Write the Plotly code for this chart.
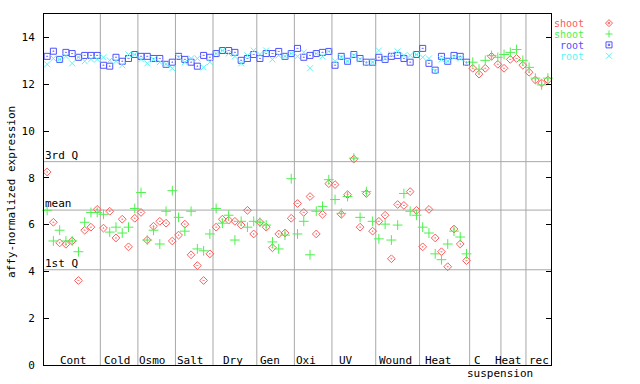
import plotly.graph_objects as go

# ---------------- data ----------------
groups = ["Cont", "Cold", "Osmo", "Salt", "Dry", "Gen", "Oxi", "UV", "Wound",
          "Heat", "C", "Heat", "rec"]
group_sizes = [9, 6, 6, 6, 7, 6, 6, 7, 7, 8, 5, 4, 4]

shoot_1 = [8.25, 6.10, 5.22, 5.16, 5.30, 3.61, 5.76, 5.89, 6.65,
           5.85, 6.57, 5.43, 6.23, 5.05, 6.27,
           6.52, 5.34, 5.93, 6.14, 6.06, 5.30,
           5.55, 6.02, 4.71, 4.25, 3.61, 4.75,
           5.89, 6.23, 6.19, 6.14, 5.98, 6.61, 5.60,
           6.10, 5.89, 5.01, 5.60, 5.64, 6.27,
           6.90, 6.52, 7.20, 5.60, 6.44, 7.75,
           7.71, 6.44, 7.28, 8.80, 5.89, 7.33, 5.72,
           6.14, 6.40, 4.54, 6.86, 6.82, 7.41, 6.61,
           5.05, 6.65, 5.43, 4.84, 4.20, 5.81, 5.17, 4.46,
           12.68, 12.43, 12.68, 13.19, 12.85,
           12.68, 13.06, 13.10, 12.81,
           12.51, 12.18, 12.05, 12.18]

shoot_2 = [6.61, 5.30, 5.76, 5.30, 5.30, 4.84, 6.10, 6.52, 6.52,
           6.44, 5.68, 5.89, 5.64, 5.89, 6.69,
           7.37, 5.34, 5.76, 5.17, 6.57, 7.45,
           6.31, 5.72, 6.57, 4.96, 4.88, 5.60,
           6.69, 6.06, 6.40, 5.34, 6.14, 5.89, 6.14,
           6.10, 5.98, 5.26, 4.96, 5.55, 7.96,
           5.60, 6.14, 4.71, 6.57, 6.78, 7.92,
           7.07, 6.48, 7.20, 8.84, 6.31, 7.41, 6.14,
           5.39, 6.02, 5.34, 5.98, 7.33, 6.57, 6.40,
           5.89, 5.64, 4.75, 4.50, 5.17, 5.72, 5.47, 4.75,
           12.94, 12.64, 13.02, 13.23, 13.15,
           13.27, 13.36, 13.48, 13.02,
           12.72, 12.26, 11.97, 12.26]

root_1 = [13.19, 13.41, 13.06, 13.36, 13.31, 13.15, 13.23, 13.23, 13.23,
          12.81, 12.77, 13.15, 12.98, 13.10, 13.27,
          13.19, 13.19, 13.10, 13.10, 12.85, 12.94,
          13.19, 13.06, 12.94, 12.77, 13.23, 13.15,
          13.31, 13.44, 13.44, 13.36, 13.02, 13.10, 13.27,
          13.10, 13.31, 13.31, 13.40, 13.19, 13.31,
          13.53, 13.15, 13.23, 13.31, 13.36, 13.40,
          12.81, 13.19, 12.98, 13.27, 13.10, 12.94, 12.94,
          13.15, 13.06, 13.19, 13.23, 13.10, 12.94, 13.27,
          13.53, 12.89, 12.60, 13.19, 12.98, 13.23, 13.19, 12.94] + [None] * 13

root_2 = [12.85, 13.10, 13.06, 13.19, 12.89, 13.15, 12.98, 13.06, 13.06,
          13.15, 13.02, 12.98, 12.81, 13.27, 13.27,
          13.06, 12.89, 13.06, 12.94, 12.85, 12.68,
          13.15, 12.94, 13.10, 13.10, 12.72, 12.94,
          13.31, 13.44, 13.31, 13.19, 12.89, 13.23, 13.44,
          13.27, 13.44, 13.06, 13.23, 13.19, 13.31,
          13.19, 13.36, 12.68, 13.31, 13.19, 13.40,
          12.98, 13.15, 12.98, 13.23, 13.06, 12.89, 12.94,
          13.44, 13.10, 13.27, 13.40, 13.23, 13.23, 13.27,
          13.15, 13.10, 12.56, 13.06, 12.98, 13.15, 13.10, 12.89] + [None] * 13

stat_names = ["3rd Q", "mean", "1st Q"]
stat_values = [8.69, 6.62, 4.07]

y_ticks = [0, 2, 4, 6, 8, 10, 12, 14]

# ---------------- styles ----------------
FONT = "DejaVu Sans Mono"
RED, GREEN, BLUE, CYAN = "#ff5a5a", "#4ef04e", "#5050ff", "#5cf4f4"
series = [
    ("shoot", shoot_1, RED, "diamond-open-dot", 6),
    ("shoot", shoot_2, GREEN, "cross-thin-open", 7),
    ("root", root_1, BLUE, "square-open-dot", 6),
    ("root", root_2, CYAN, "x-thin-open", 6),
]
# legend glyph outlines (pixel offsets around an anchor)
legend_glyphs = [
    "M0,3.5 L3.5,0 L0,-3.5 L-3.5,0 Z M-0.7,-0.7 L0.7,-0.7 L0.7,0.7 L-0.7,0.7 Z",
    "M-3.5,0 L3.5,0 M0,-3.5 L0,3.5",
    "M-3,-3 L3,-3 L3,3 L-3,3 Z M-0.7,-0.7 L0.7,-0.7 L0.7,0.7 L-0.7,0.7 Z",
    "M-3,-3 L3,3 M-3,3 L3,-3",
]

n = sum(group_sizes)
xs = list(range(1, n + 1))

fig = go.Figure()
for name, vals, col, sym, sz in series:
    fig.add_trace(go.Scatter(
        x=xs, y=vals, mode="markers", name=name, showlegend=False,
        marker=dict(symbol=sym, size=sz, color=col, line=dict(color=col, width=1)),
        cliponaxis=False,
    ))

# group separators and labels
shapes = []
annotations = []
cum = 0
bounds = []
for g, s in zip(groups, group_sizes):
    start = cum
    cum += s
    bounds.append((start, cum))
for i, (a, b) in enumerate(bounds[:-1]):
    shapes.append(dict(type="line", xref="x", yref="paper", x0=b + 0.5, x1=b + 0.5,
                       y0=0, y1=1, line=dict(color="#a8a8a8", width=1), layer="below"))
label_shift = [0.2, -0.2, -0.7, -0.6, -0.3, -0.9, -1.1, -1.3, -0.4, -0.9, -1.3, -0.8, 0.1]
for (a, b), g, sh in zip(bounds, groups, label_shift):
    c = (a + b + 1) / 2 + sh
    annotations.append(dict(x=c, y=0.0127, xref="x", yref="paper", text=g,
                            showarrow=False, font=dict(family=FONT, size=11, color="black"),
                            xanchor="center", yanchor="middle", height=11, borderpad=0))
# second line of "C suspension"
ca, cb = bounds[10]
annotations.append(dict(x=(ca + cb + 1) / 2 + 2.4, y=-0.023, xref="x", yref="paper",
                        text="suspension", showarrow=False,
                        font=dict(family=FONT, size=11, color="black"),
                        xanchor="center", yanchor="middle", height=11, borderpad=0))

# statistic lines
for nm, v in zip(stat_names, stat_values):
    shapes.append(dict(type="line", xref="paper", yref="y", x0=0, x1=1, y0=v, y1=v,
                       line=dict(color="#a8a8a8", width=1), layer="below"))
    annotations.append(dict(x=0, y=v, xref="paper", yref="y", text=nm, showarrow=False,
                            xanchor="left", yanchor="bottom", borderpad=0, yshift=-1,
                            font=dict(family=FONT, size=11, color="black")))

# y title
annotations.append(dict(x=-0.063, y=0.493, xref="paper", yref="paper",
                        text="affy-normalized expression", textangle=-90, showarrow=False,
                        font=dict(family=FONT, size=11, color="black"),
                        xanchor="center", yanchor="middle"))

# custom legend (text left, symbol right)
leg_y_paper = [0.974, 0.943, 0.912, 0.881]
leg_x_mark = 1.1144
for (name, vals, col, sym, sz), yp, glyph in zip(series, leg_y_paper, legend_glyphs):
    annotations.append(dict(x=1.067, y=yp, xref="paper", yref="paper", text=name,
                            showarrow=False, xanchor="right", yanchor="middle",
                            height=10, borderpad=0,
                            font=dict(family=FONT, size=10, color=col)))
    shapes.append(dict(type="path", xref="paper", yref="paper",
                       xsizemode="pixel", ysizemode="pixel",
                       xanchor=leg_x_mark, yanchor=yp, path=glyph,
                       line=dict(color=col, width=1), fillcolor="rgba(0,0,0,0)"))

fig.update_layout(
    width=640, height=384,
    margin=dict(l=44, r=89, t=14, b=15),
    paper_bgcolor="white", plot_bgcolor="white",
    shapes=shapes, annotations=annotations,
    font=dict(family=FONT, size=11, color="black"),
    showlegend=False,
    xaxis=dict(range=[0.5, n + 0.5], showgrid=False, zeroline=False,
               showticklabels=False, ticks="", showline=True, linecolor="black",
               linewidth=1, mirror=True, fixedrange=True),
    yaxis=dict(range=[0, 15], tickvals=y_ticks, ticktext=[str(t) for t in y_ticks],
               showgrid=False, zeroline=False, ticks="inside", ticklen=5,
               tickcolor="black", showline=True, linecolor="black", linewidth=1,
               mirror="ticks", tickfont=dict(family=FONT, size=11, color="black"),
               ticklabelstandoff=6, fixedrange=True),
)

fig.write_html(
    "out.html",
    config={"displayModeBar": False},
    post_script="document.body.style.margin='0';document.body.style.overflow='hidden';",
)
